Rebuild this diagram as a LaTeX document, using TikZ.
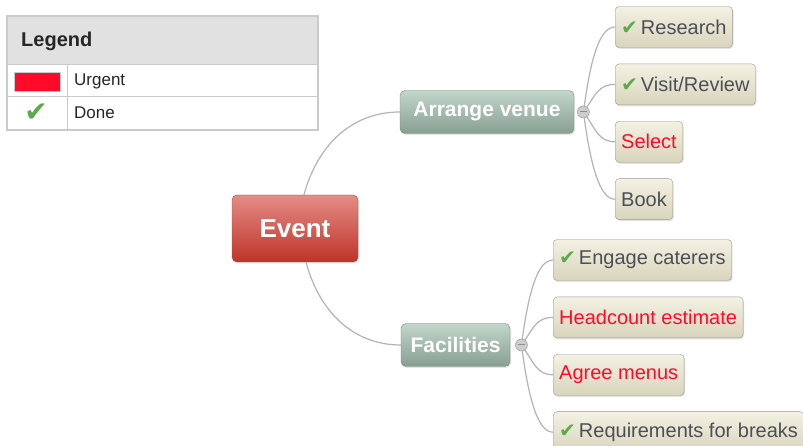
\documentclass[tikz,border=0pt]{standalone}
\usepackage{fontspec}
\setmainfont{Liberation Sans}
\newfontfamily\symfont{DejaVu Sans}
\usetikzlibrary{positioning,shadows}

\definecolor{linkgray}{HTML}{B4B4B4}
\definecolor{evtop}{HTML}{E58C86}
\definecolor{evbot}{HTML}{BE3329}
\definecolor{evedge}{HTML}{9A4C47}
\definecolor{brtop}{HTML}{C2D6CA}
\definecolor{brbot}{HTML}{879F92}
\definecolor{bredge}{HTML}{76897F}
\definecolor{lftop}{HTML}{F3F1E3}
\definecolor{lfbot}{HTML}{D9D4BC}
\definecolor{lfedge}{HTML}{9D9A8D}
\definecolor{lftext}{HTML}{4B5057}
\definecolor{urgred}{HTML}{FF0A28}
\definecolor{donegreen}{HTML}{5BAA4B}
\definecolor{lgdhead}{HTML}{E1E1E1}
\definecolor{lgdedge}{HTML}{CBCBCB}
\definecolor{knobfill}{HTML}{CDCDCD}
\definecolor{knobedge}{HTML}{8E8E8E}

\newcommand{\donemark}[1][20]{{\symfont\fontsize{#1}{#1}\selectfont\textcolor{donegreen}{✔}}}

\begin{document}
\begin{tikzpicture}[x=1pt, y=1pt,
  node distance=16pt and 0pt,
  boxshadow/.style={drop shadow={opacity=0.22, shadow xshift=1pt, shadow yshift=-1.5pt}},
  hub/.style={draw=evedge, rounded corners=5pt, top color=evtop, bottom color=evbot,
              minimum width=126pt, minimum height=67pt, text=white,
              font=\fontsize{26}{30}\selectfont\bfseries, boxshadow},
  branch/.style={draw=bredge, rounded corners=5pt, top color=brtop, bottom color=brbot,
              minimum height=43pt, text=white,
              font=\fontsize{21}{25}\selectfont\bfseries, boxshadow},
  leaf/.style={draw=lfedge, rounded corners=4pt, top color=lftop, bottom color=lfbot,
              minimum height=41pt, inner xsep=6pt, text=lftext,
              font=\fontsize{20}{24}\selectfont, boxshadow},
  urgent/.style={leaf, text=urgred},
  knob/.style={circle, draw=knobedge, fill=knobfill, minimum size=12pt, inner sep=0pt,
              path picture={\draw[knobedge, line width=1pt]
                ([xshift=-3.5pt]path picture bounding box.center) --
                ([xshift=3.5pt]path picture bounding box.center);}},
  lgdtext/.style={inner sep=0pt, anchor=west, text=black!85, font=\fontsize{17}{20}\selectfont},
  link/.style={draw=linkgray, line width=1.2pt}
]
\fill[white] (0,0) rectangle (803,446);
\useasboundingbox (0,0) rectangle (803,446);

\fill[lgdhead] (7,381) rectangle (318,430);
\draw[lgdedge, line width=1.5pt] (7,316) rectangle (318,430);
\draw[lgdedge, line width=1pt] (7,381) -- (318,381) (7,349) -- (318,349) (67,316) -- (67,381);
\node[lgdtext, font=\fontsize{20}{24}\selectfont\bfseries] (lgdtitle) at (21,405) {Legend};
\node[draw=lgdedge, fill=urgred, minimum width=46pt, minimum height=19pt, inner sep=0pt]
  (lgdswatch) at (37,364.5) {};
\node[lgdtext] (lgdurgent) at (74,365) {Urgent};
\node (lgdtick) at (36,333) {\donemark[28]};
\node[lgdtext] (lgddone) at (74,333) {Done};

\node[hub] (event) at (295,217.5) {Event};
\node[branch, minimum width=174pt] (venue) at (487,334) {Arrange venue};
\node[branch, minimum width=109pt] (facil) at (455.5,101) {Facilities};
\node[knob, right=3pt of venue] (venueknob) {};
\node[knob, right=5pt of facil] (facilknob) {};

\node[leaf, anchor=west] (research) at (615,419) {\donemark\hspace{3pt}Research};
\node[leaf, below right=of research.south west] (visit) {\donemark\hspace{3pt}Visit/Review};
\node[urgent, below right=of visit.south west] (select) {Select};
\node[leaf, below right=of select.south west] (book) {Book};

\node[leaf, anchor=west] (caterers) at (553,186) {\donemark\hspace{3pt}Engage caterers};
\node[urgent, below right=of caterers.south west] (headcount) {Headcount estimate};
\node[urgent, below right=of headcount.south west] (menus) {Agree menus};
\node[leaf, below right=of menus.south west] (breaks) {\donemark\hspace{3pt}Requirements for breaks};

\draw[link] ([xshift=9pt]event.north) to[out=75, in=180] (venue.west);
\draw[link] ([xshift=11pt]event.south) to[out=-75, in=180] (facil.west);
\foreach \leaf/\bend/\dep in {research/82/45, visit/55/15, select/-55/15, book/-82/45}
  \draw[link] (venueknob.\bend) to[out=\bend, in=180, out distance=\dep pt, in distance=16pt] (\leaf.west);
\foreach \leaf/\bend/\dep in {caterers/82/45, headcount/55/15, menus/-55/15, breaks/-82/45}
  \draw[link] (facilknob.\bend) to[out=\bend, in=180, out distance=\dep pt, in distance=16pt] (\leaf.west);
\end{tikzpicture}
\end{document}
